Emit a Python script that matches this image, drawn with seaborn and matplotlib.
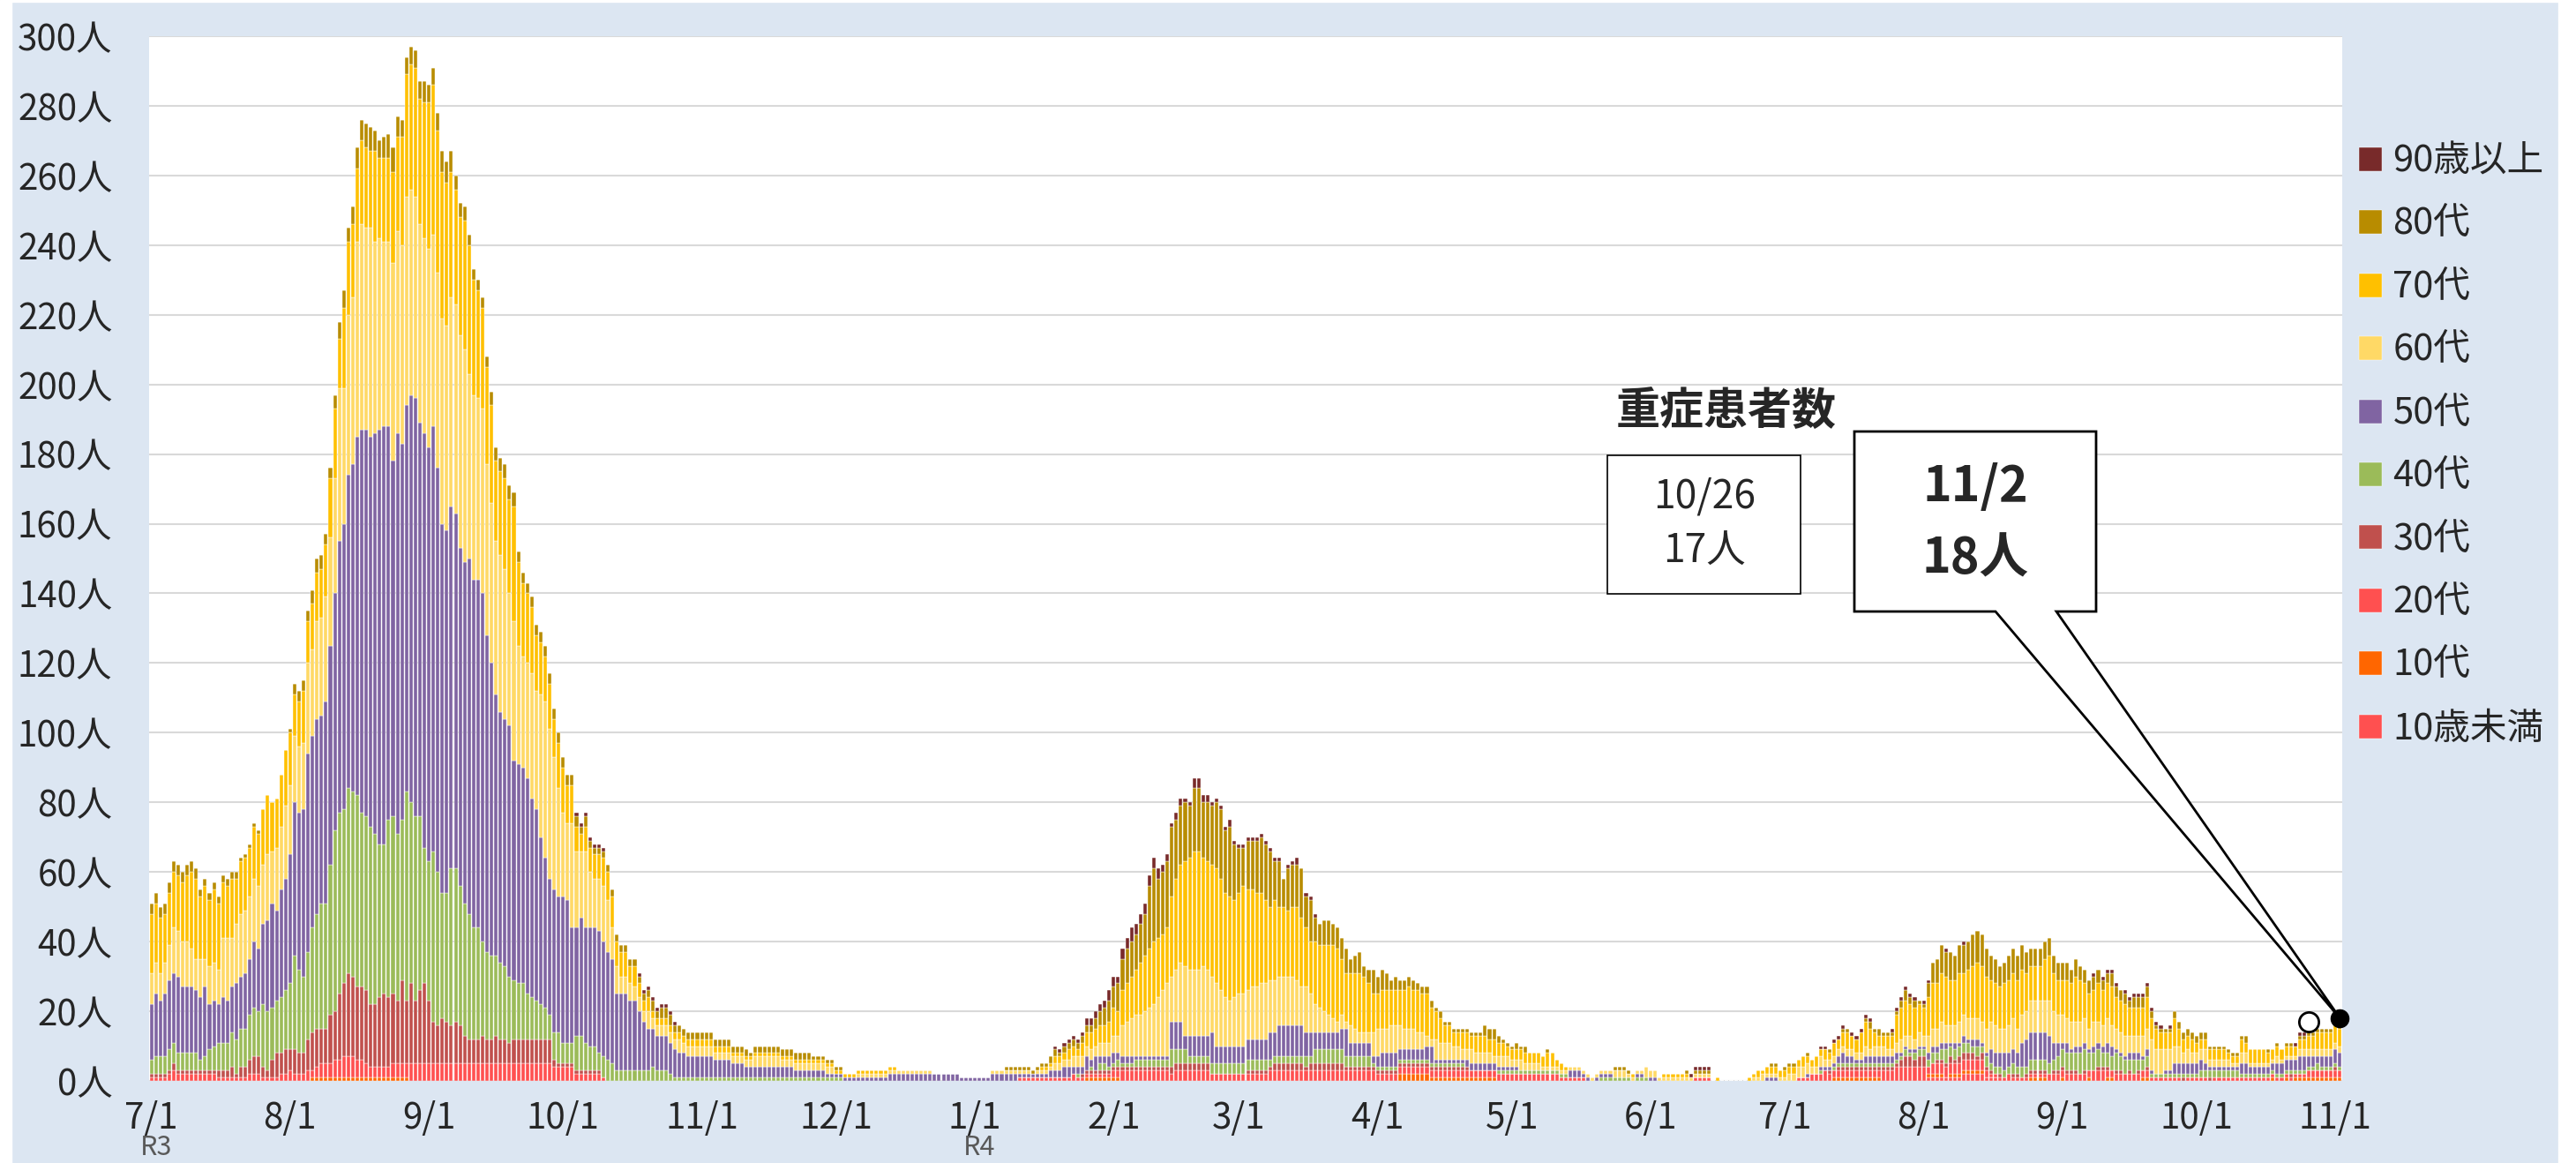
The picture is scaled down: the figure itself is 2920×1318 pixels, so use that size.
import matplotlib
matplotlib.use("Agg")
import matplotlib.pyplot as plt
from matplotlib.patches import Rectangle, Polygon
import matplotlib.transforms as mtransforms
import seaborn as sns
import pandas as pd


def days(s):
    # "v*n" = n days in a row with value v
    out = []
    for tok in s.split():
        if "*" in tok:
            v, n = tok.split("*")
            out += [int(v)] * int(n)
        else:
            out.append(int(tok))
    return out


# daily counts 2021/7/1 - 2022/11/2, one line per month
age_u10 = days("""
0*31
0*31
0*30
0*31
0*30
0*31
0*31
0*28
0*31
0*30
0*31
0*30
0*31
0 1*8 2*5 1*3 0*14
0*30
0*31
0 0
""")

age_10s = days("""
0*31
0*5 1*22 0*4
0*30
0*31
0*30
0*31
0*25 1*6
1 1 0*26
0*31
0*5 2*7 1*15 0*3
0*31
0*30
0*11 1*11 0*9
0 1*4 0 1*8 0*10 1*4 0*3
1 0*5 1 0*3 1 1 0*6 1 1 0*10
0*17 1 0 0 1 0 1*9
1 1
""")

age_20s = days("""
1 1 1 1 2 3 2 2 2 2 2 2 2 2 2 1 1 1 1 1 1 1 2 2 2 1 1 1 1 2 2
3 2 2 2 3 2 3 4 4 4 5 5 6 6 6 5 5 4 3 3 3 3 3 4 4 4 4 5 5 5 5
5*28 4 4
4 4 4 2 2 2 2 2 2 1 0*21
0*30
0*31
0*10 1*12 2 1*8
2 2 3*11 2 3*8 2*6
2*7 3*24
2*30
2*11 1*6 0*14
0*10 1*4 0*16
0*3 1*3 2 2 2 3 2*12 3*3 4*6
4 2 3*12 2 1*4 2 1*8 2*3
2*7 3*3 2*10 1*7 0 1 1
1*3 0 1*21 2*6
2 2
""")

age_30s = days("""
1 1 1 1 1 2 1 1 1 1 1 1 1 1 1 2 2 2 3 1 3 3 4 5 5 3 2 5 7 6 7
6 7 6 6 9 11 11 10 10 14 14 19 21 24 23 21 21 21 18 18 20 21 20 20 18 24 18 23 18 21 23
18 12 11 13 12 11 12 11 8 7 7 7 8 7 7 8 7 7 6 7 7 7 7 7 7 7 7 7 2 1
1*9 0*22
0*30
0*31
0*24 1*7
1 1 1*11 2*9 0*6
0 0 1*6 2*7 1 2*8 1*7
1*21 0*9
0*31
0*30
0*10 1 0 1*14 2 3 3 2 3
3 0 0 1 1 1 2 1 2 2 2 2 1 2 1 1 0 1 0 0 1 1 0 1 1 1 1 1 0 1 1
1 1 1 1 0 1 0 0 1 1 1 0 1 1 0 1 0 1 0 1 0*7 1 0 0
0 0 0 1 0*17 1 0*9
1 0
""")

age_40s = days("""
4 5 5 5 6 6 5 5 5 5 5 3 4 6 7 8 8 8 10 10 11 11 13 14 13 18 17 15 15 16 17
19 27 24 22 25 30 33 36 36 43 52 52 50 53 53 55 50 50 51 49 44 43 51 51 48 46 60 52 53 50 39
40 49 44 36 37 45 44 40 38 36 32 32 27 25 24 23 22 21 19 17 16 16 13 12 11 10 9 7 8 9
6 6 6 10 10 8 7 7 5 6 6 5 3 3 3 3 3 3 3 3 4 3 3 3 2 1 1 1 1 1 1
1*30
1 1 0*29
0*23 1 0 0 1 0 2 2 1
1 2 1 1 1 2 2 2 2 2 2 2 2 5 4 4 4 2 2 2 2 2 3 3 3 3 3 3
3*7 2*8 3 2 4*7 3*6 1
1*20 0*7 1*3
1*13 0*7 1*7 0 1*3
0*30
0*8 1 0 0 1*15 1 2 1 2 2
2 2 3 2 3 4 3 3 3 3 3 2 3 2 3 2 2 2 2 2 3 2 3 2 3 3 3 3 3 3 4
5 5 5 5 6 6 5 5 5 4 4 4 5 4 4 3 4 3 3 3 1*10
1 2*9 1*17 2 1 1 1
1 1
""")

age_50s = days("""
16 18 16 18 20 20 22 19 19 19 18 18 20 13 13 11 13 12 13 16 15 16 16 19 18 23 26 30 26 31 32
37 44 45 48 57 55 56 54 58 63 68 78 82 90 94 103 110 111 112 115 119 120 113 102 115 108 111 117 120 113 119
119 122 116 106 104 104 102 97 98 102 100 100 100 91 84 75 72 71 72 63 63 62 62 57 55 48 43 39 41 39
42 41 33 31 34 33 34 34 35 33 31 30 22 22 22 20 20 17 14 12 11 10 10 10 9 8 7 7 6 6 6
6*3 5*4 4*3 3*11 2*7 1*2
1*12 2*16 1*3
1*4 2*6 1*7 2*3 3 3 2 2 2 4 2 4 2 2 3
3 2*4 1*8 8*3 4 6*5 9 5*5
5 5 6*5 8 7 9*6 7 7 5*6 6 8 4*5 2
3 4*4 3*6 4 5 1*7 2*7 1*3
1 1 0*11 2*3 1 1 0 1 1*3 0*5 1 1 0
1 1 0*24 1 1 1 0
0*5 1 0 0 1 1 1 1 2 3 2 2 1 1 2 2 2 2 2 2 2 2 1 1 1 1 1
1 2 2 2 2 2 1 2 1 2 1 2 2 1 1 4 4 4 5 4 4 4 7 8 8 8 8 8 8 5 4
2 3 1 2 2 2 1 2 2 2 3 3 1 1 1 2 2 2 1 2 1 0 0 1 1 3 3 3 3 3
3 3 2 1*7 3 3 2*6 3*5 4 4 3 3 2 3 3 3
4 4
""")

age_60s = days("""
9 9 8 9 10 13 13 13 13 11 9 11 8 11 11 10 17 18 14 17 18 18 18 18 18 17 19 15 18 18 21
20 19 19 19 26 25 28 28 30 31 33 44 39 46 48 56 59 58 60 55 55 53 53 57 58 57 60 59 58 57 56
57 55 56 59 59 60 60 61 61 53 53 52 53 49 46 44 45 43 38 40 34 32 33 36 34 41 45 43 38 31
24 22 30 22 19 22 16 14 15 16 15 9 8 5 5 5 4 4 3 5 3 3 3 3 3 3 4 3 3 3 3
3*3 2*9 3*6 2*12
0*5 1*17 0*9
0*4 1*9 0 1*4 2*4 3*6 4*3
5 5 9 10 11 12 12 13 14 15 17 19 21 13 15 17 20 19 19 19 20 19 16 18 16 14 13 14
15 15 14 15 15 16 16 15 15 14 14 14 14 13 11 13 11 8 7 6 5 4 3 4 2 5 4 3 3 3 7
8 7 7 8 8 7 6 6 6 5 5 3 2 6 5 5 5 4 4 3 3 4 3 3 3 3 2 3 3 3
2 2 3 2 2 2 2 1*16 2 2 2 1 1 1 1 3
2 2 1*12 0*9 1 1 2 1*4
1 2 2 3 3 3 2 2 3 2 2 2 2 2 2 2 2 2 3 2 3 3 3 2 2 3 4 3 4 3 4
3 5 5 5 6 5 5 5 6 6 6 6 6 6 7 8 8 7 7 8 9 7 8 8 9 9 9 9 10 9 8
8 7 8 7 7 7 6 7 6 6 7 6 6 6 6 5 5 5 6 6 9 7 7 6 6 5 5 3 4 3
3 3 4 2 2 2 2 2 1 1 3 3 1 1 1 1 1 1 2 1 1 1 1 2 2 2 2 2 2 2 2
2 2
""")

age_70s = days("""
17 17 16 14 15 16 16 17 19 22 23 18 21 19 21 19 16 15 17 13 15 15 14 15 15 16 17 14 14 15 16
15 12 13 15 12 13 14 14 15 17 20 14 23 21 21 21 24 23 22 26 23 24 24 26 27 31 35 36 37 36 39
42 43 41 42 41 36 33 34 37 37 33 31 29 28 28 23 24 26 27 33 24 21 20 19 16 15 13 13 11 13
13 11 11 7 5 7 7 7 7 8 8 9 7 7 7 5 6 4 3 4 2*11
2*7 1*23
1*14 0*17
0*15 1 1 1 2 2 2 3 3 2 4 4 5 5 5 5 6
8 7 10 11 12 13 15 16 17 18 17 16 16 23 26 28 30 32 34 34 31 31 32 33 32 30 30 28
29 31 29 28 27 26 24 21 23 20 20 19 20 21 20 17 15 18 18 19 20 21 21 16 14 15 16 17 16 14 11
10 11 11 10 10 10 11 12 11 12 11 12 9 8 7 5 5 4 4 5 5 4 5 5 5 4 5 4 4 3
3*8 4 4 2 2 1 0*14 1 0 0 0
0 0 0 1*6 0*6 1 0*6 1 1 2 1 2 2 2 2
2 2 2 2 3 2 2 3 2 3 2 4 3 4 5 4 4 6 7 6 4 3 3 4 4 8 9 10 9 9 8
8 11 13 13 14 14 13 13 14 12 14 15 16 16 15 12 12 12 13 13 13 14 13 11 10 10 10 12 13 11 10
10 11 11 13 12 10 10 9 11 10 10 11 9 9 9 8 8 8 8 9 6 6 5 5 5 8 5 4 4 4
3*7 2 2 2 4 3 4 4 4 4 3*9 4 4 5 5 5 5
5 5
""")

age_80s = days("""
3*11 2*9 1*5 0*6
1 3 3 3 3 4 4 4 3 3 4 5 5 4 5 6 6 7 7 6 5 6 7 7 6 5 5 5 5 5 6
5 5 5 6 6 6 4 4 4 3 3 3 3 3 4 4 4 4 4 4 3*10
3 3 3 3 2 3 2*14 3 2 3 3 3 2*6
2*11 1 2*13 1*5
1 1 0*29
0*7 1*10 2 2 1 2*7 3 4 5 6
6 8 9 10 10 10 11 12 18 21 17 18 19 20 17 17 17 15 18 18 16 17 17 19 20 18 20 16
13 11 14 14 15 16 16 16 11 13 8 12 12 12 14 9 12 7 6 7 7 6 6 6 7 4 5 6 3 4 7
5 6 5 3 4 3*4 2*4 1 2 1*9 3*3 2 1 1
1 2 1 2 0*4 1 0*14 1*4 0*4
0*8 1 0 1*4 0*13 1 1 0
1 1 1 0 0 1 0 0 0 0 1 0 0 1 1 0 0 0 1 2 1 2 1 1 1 1 2 3 2 2 1
1 4 6 7 8 7 8 7 8 8 8 9 9 9 8 7 7 6 6 7 7 7 7 6 5 5 5 5 5 5 5
5 5 4 5 4 4 4 4 4 3 3 4 3 3 3 2 3 3 3 3 2 1 1 1 1 2 2 2 2 2
2 2 2 1*8 2 0 0 0 0 1 0 1 0 1 1 0 1*8
2 1
""")

age_90p = days("""
0*31
0*31
0*30
0*3 1*7 0*7 1*9 0*5
0*30
0*31
0*18 1*7 2*5 3
3 2 3 3 4 3 3 3 3 3 3 2 2 1 2 2 1 1 3 3 2 2 1 1 1 1 2 1
1*10 0 1 1 2 0 1 1 1 0*13
0*30
0*31
0*9 1*5 0*16
0*8 1 1 0 1 1 1 0 1 1 1 1 1 0 0 0 0 1 1 1 1 1 1 0
1 1 0 0 0 1 0 0 0 1 0*21
0*7 1 0 1 1 1 1 0 1*9 0 1 0*5
0*22 1 1 1 0*6
0 0
""")

# top of legend first; seaborn stacks the first hue level on top
ages = ["90歳以上", "80代", "70代", "60代", "50代", "40代", "30代", "20代", "10代", "10歳未満"]
counts = [age_90p, age_80s, age_70s, age_60s, age_50s, age_40s, age_30s, age_20s, age_10s, age_u10]
colors = {"90歳以上": "#782A2A", "80代": "#B88C00", "70代": "#FFC000", "60代": "#FFD966",
          "50代": "#8064A2", "40代": "#9BBB59", "30代": "#C0504D", "20代": "#FF5050",
          "10代": "#FF6600", "10歳未満": "#FF5050"}

n_days = 490
for a, c in zip(ages, counts):
    assert len(c) == n_days, (a, len(c))

month_pos = [0, 31, 62, 92, 123, 153, 184, 215, 243, 274, 304, 335, 365, 396, 427, 457, 488]
month_labels = ["7/1", "8/1", "9/1", "10/1", "11/1", "12/1", "1/1", "2/1", "3/1", "4/1",
                "5/1", "6/1", "7/1", "8/1", "9/1", "10/1", "11/1"]
era_pos = [0, 184]
era_labels = ["R3", "R4"]

# severe patients (重症患者数)
sev_day = [482, 489]
sev_date = ["10/26", "11/2"]
sev_value = [17, 18]

df = pd.DataFrame([(d, a, v) for a, c in zip(ages, counts) for d, v in enumerate(c)],
                  columns=["day", "age", "count"])

W, H = 2920, 1318
sns.set_theme(style="white")
plt.rcParams["font.family"] = ["Noto Sans CJK JP", "DejaVu Sans"]

fig = plt.figure(figsize=(W / 100, H / 100), dpi=100, facecolor="#DCE6F2")
fig.add_artist(Rectangle((0, 0), 13 / W, 1, transform=fig.transFigure, color="white", zorder=-1))
fig.add_artist(Rectangle((0, 1 - 2 / H), 1, 2 / H, transform=fig.transFigure, color="white", zorder=-1))
fig.add_artist(Rectangle((1 - 20 / W, 0), 20 / W, 1, transform=fig.transFigure, color="white", zorder=-1))


def px(x, y):
    return (x / W, 1 - y / H)


ax = fig.add_axes([169 / W, 1 - 1225 / H, (2655 - 169) / W, (1225 - 41) / H])
ax.set_facecolor("white")

sns.histplot(data=df, x="day", weights="count", hue="age", hue_order=ages,
             multiple="stack", discrete=True, shrink=0.8, palette=colors,
             alpha=1, edgecolor="white", linewidth=0.3, ax=ax)

ax.set_xlim(-0.5, n_days - 0.5)
ax.set_ylim(0, 300)
yt = list(range(0, 301, 20))
ax.set_yticks(yt)
ax.set_yticklabels([f"{v}人" for v in yt], fontsize=29)
ax.set_xticks(month_pos)
ax.set_xticklabels(month_labels, fontsize=29)
ax.tick_params(axis="y", length=0, pad=30)
ax.tick_params(axis="x", length=0, pad=16)
ax.set_xlabel("")
ax.set_ylabel("")
ax.grid(axis="y", color="#D9D9D9", linewidth=1.5)
ax.set_axisbelow(True)
for s in ax.spines.values():
    s.set_visible(False)

# era labels under 7/1 and 1/1, kept inside the figure's bottom edge
trans = mtransforms.blended_transform_factory(ax.transData, fig.transFigure)
for p, lab in zip(era_pos, era_labels):
    ax.text(p + 1, 2 / H, lab, transform=trans, ha="center", va="bottom",
            fontsize=22, color="#595959")

sns.move_legend(ax, "upper left", bbox_to_anchor=(2674 / W, 1 - 163 / H),
                bbox_transform=fig.transFigure, title=None, frameon=False,
                fontsize=30, handlelength=0.62, handleheight=0.62,
                handletextpad=0.3, labelspacing=0.73, borderaxespad=0, borderpad=0)

# severe patient markers
ax.plot(sev_day[0], sev_value[0], "o", ms=16, mfc="white", mec="black", mew=2,
        clip_on=False, zorder=6)
ax.plot(sev_day[1], sev_value[1], "o", ms=14.5, mfc="black", mec="black",
        clip_on=False, zorder=6)

# title and boxes
fig.text(*px(1832, 466), "重症患者数", fontsize=36, fontweight="bold", ha="left", va="center")

ax.add_patch(Rectangle(px(1822, 673), (2041 - 1822) / W, (673 - 516) / H,
                       transform=fig.transFigure, facecolor="white", edgecolor="black",
                       linewidth=1.2, clip_on=False, zorder=4))
fig.text(*px(1932, 562), sev_date[0], fontsize=32, ha="center", va="center")
fig.text(*px(1932, 625), f"{sev_value[0]}人", fontsize=32, ha="center", va="center")

fig.canvas.draw()
tx, ty = ax.transData.transform((sev_day[1], sev_value[1]))
tip = (tx / W, ty / H)
callout = [px(2102, 489), px(2376, 489), px(2376, 693), px(2331, 693), tip,
           px(2262, 693), px(2102, 693)]
ax.add_patch(Polygon(callout, closed=True, transform=fig.transFigure,
                     facecolor="white", edgecolor="black", linewidth=2,
                     joinstyle="miter", clip_on=False, zorder=5))
fig.text(*px(2239, 552), sev_date[1], fontsize=40, fontweight="bold", ha="center", va="center")
fig.text(*px(2239, 634), f"{sev_value[1]}人", fontsize=40, fontweight="bold", ha="center", va="center")

fig.savefig("out.png", dpi=100, facecolor=fig.get_facecolor())
